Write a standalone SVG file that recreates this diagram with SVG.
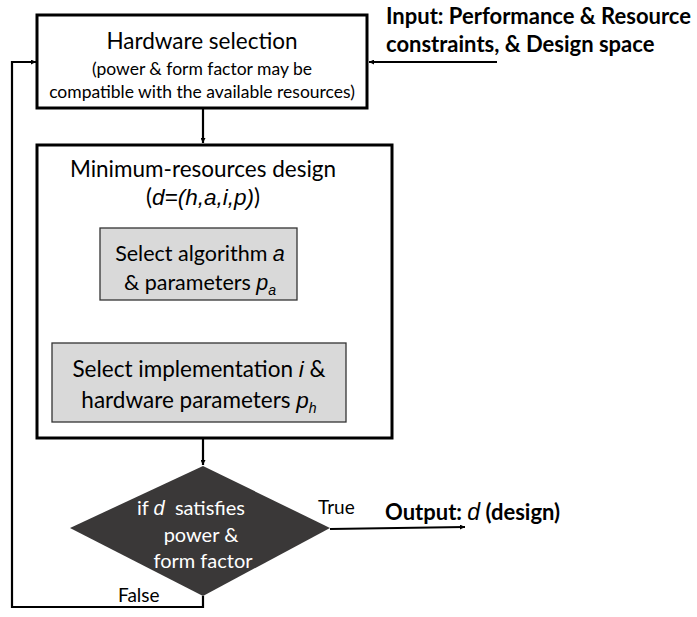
<svg xmlns="http://www.w3.org/2000/svg" width="697" height="617" viewBox="0 0 697 617">
<defs>
<marker id="ah" viewBox="0 0 10 10" refX="10" refY="5" markerWidth="5" markerHeight="5" orient="auto" markerUnits="userSpaceOnUse">
<path d="M0,0 L10,5 L0,10 z" fill="#000"/>
</marker>
<style>
text{font-family:Lato,"Open Sans",sans-serif;fill:#000}
.big{font-size:22.5px}
.mid{font-size:21.5px}
.small{font-size:17.5px}
.bold{font-weight:bold;font-size:22px}
.it{font-family:"Liberation Sans",Arial,sans-serif;font-style:italic}
.box{fill:#fff;stroke:#000;stroke-width:3}
.gray{fill:#d9d9d9;stroke:#333;stroke-width:1.3}
.conn{fill:none;stroke:#000;stroke-width:2.2}
.dt{font-size:20px;fill:#fff}
</style>
</defs>
<rect width="697" height="617" fill="#fff"/>
<g id="connectors">
<line class="conn" x1="203" y1="108" x2="203" y2="143" marker-end="url(#ah)"/>
<line class="conn" x1="203" y1="300" x2="203" y2="341" marker-end="url(#ah)"/>
<line class="conn" x1="203" y1="438" x2="203" y2="465" marker-end="url(#ah)"/>
<line class="conn" x1="497" y1="62" x2="369" y2="62" marker-end="url(#ah)"/>
<polyline class="conn" points="203,596 203,607 12,607 12,62 36,62" marker-end="url(#ah)"/>
<line class="conn" x1="330" y1="529" x2="465" y2="527" marker-end="url(#ah)"/>
<text x="118" y="602" font-size="19">False</text>
<text x="318" y="514" font-size="19">True</text>
</g>
<g id="input">
<text class="bold" x="386" y="24">Input: Performance &amp; Resource</text>
<text class="bold" x="386" y="52">constraints, &amp; Design space</text>
</g>
<g id="hardware-selection">
<rect class="box" x="37" y="15" width="330" height="93"/>
<text class="big" x="202" y="49" text-anchor="middle">Hardware selection</text>
<text class="small" x="202" y="75" text-anchor="middle">(power &amp; form factor may be</text>
<text class="small" x="202" y="98" text-anchor="middle">compatible with the available resources)</text>
</g>
<g id="min-resources">
<rect class="box" x="37" y="145" width="355" height="293"/>
<text class="big" x="203" y="177" text-anchor="middle">Minimum-resources design</text>
<text class="big" x="203" y="205" text-anchor="middle">(<tspan class="it">d=(h,a,i,p)</tspan>)</text>
</g>
<g id="select-algorithm">
<rect class="gray" x="100" y="228" width="197" height="72"/>
<text class="mid" x="200" y="261" text-anchor="middle">Select algorithm <tspan class="it">a</tspan></text>
<text class="mid" x="200" y="290" text-anchor="middle">&amp; parameters <tspan class="it">p</tspan><tspan class="it" font-size="14" dy="5">a</tspan></text>
</g>
<g id="select-implementation">
<rect class="gray" x="52" y="343" width="294" height="79"/>
<text class="big" x="199" y="377" text-anchor="middle">Select implementation <tspan class="it">i</tspan> &amp;</text>
<text class="big" x="199" y="408" text-anchor="middle">hardware parameters <tspan class="it">p</tspan><tspan class="it" font-size="14" dy="5">h</tspan></text>
</g>
<g id="decision">
<polygon points="203,466 330,528 203,596 70,528" fill="#3a3838"/>
<text class="dt" x="191" y="515" text-anchor="middle" xml:space="preserve">if <tspan class="it" style="fill:#fff">d</tspan>  satisfies</text>
<text class="dt" x="201" y="542" text-anchor="middle">power &amp;</text>
<text class="dt" x="203" y="568" text-anchor="middle">form factor</text>
</g>
<g id="output">
<text class="bold" x="385" y="520">Output: <tspan class="it" font-weight="normal" font-size="23">d</tspan> (design)</text>
</g>
</svg>
